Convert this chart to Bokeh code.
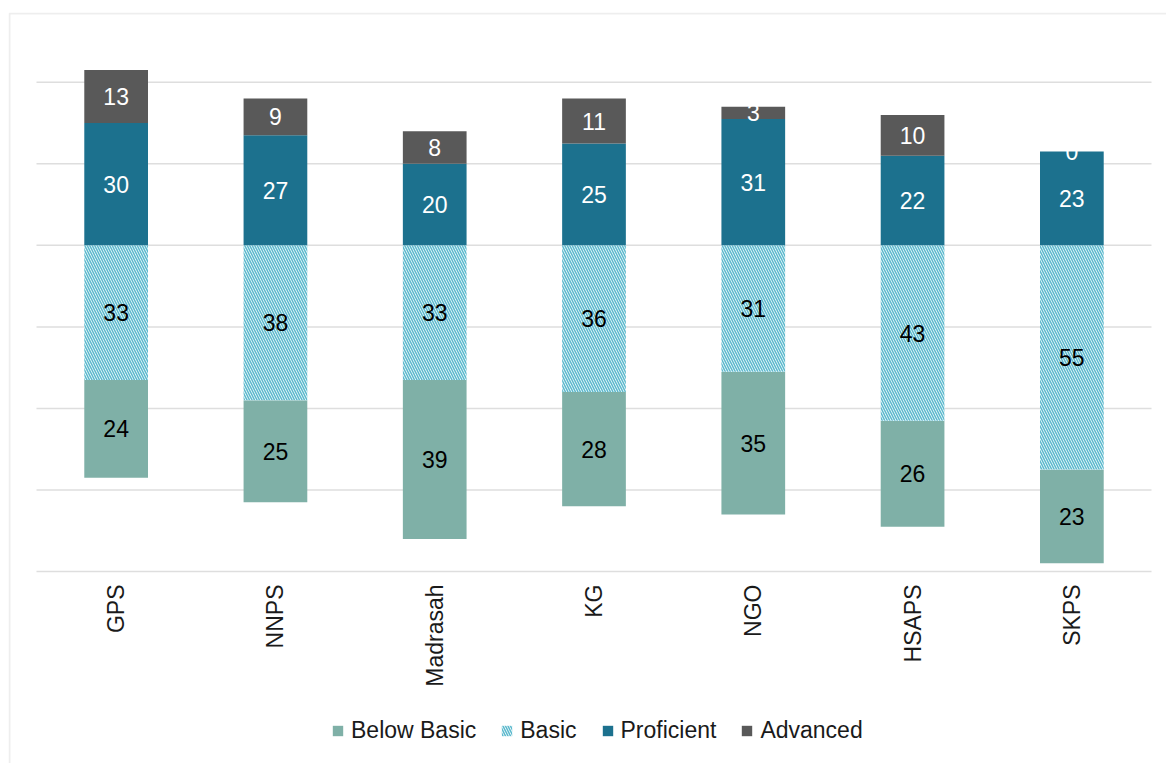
import math
from bokeh.plotting import figure
from bokeh.models import (ColumnDataSource, Legend, LegendItem, Range1d,
                          BoxAnnotation)
from bokeh.core.properties import value
from bokeh.embed import file_html
from bokeh.resources import INLINE

categories = ["GPS", "NNPS", "Madrasah", "KG", "NGO", "HSAPS", "SKPS"]
below_basic = [24, 25, 39, 28, 35, 26, 23]
basic = [33, 38, 33, 36, 31, 43, 55]
proficient = [30, 27, 20, 25, 31, 22, 23]
advanced = [13, 9, 8, 11, 3, 10, 0]
grid_ticks = [-80, -60, -40, -20, 0, 20, 40]

FONT = "Liberation Sans"
C_BELOW = "#7FB0A7"
C_BASIC = "#5DBACE"
C_PROF = "#1C718E"
C_ADV = "#595959"
C_GRID = "#dedede"
C_BORDER = "#c8c8c8"

# canvas / chart-area geometry (pixels)
W_PX, H_PX = 1166, 763
CHART_LEFT, CHART_TOP = 8, 12          # outer chart border
PLOT_L, PLOT_R = 36, 1151              # plot area (category band)
Y_TOP_VAL, Y_TOP_PX = 50, 41
Y_BOT_VAL, Y_BOT_PX = -80, 571

n = len(categories)
xpx = (PLOT_R - PLOT_L) / n
ypx = (Y_BOT_PX - Y_TOP_PX) / (Y_TOP_VAL - Y_BOT_VAL)
x_start = -(PLOT_L - CHART_LEFT) / xpx
x_end = n + (W_PX - PLOT_R) / xpx
y_end = Y_TOP_VAL + (Y_TOP_PX - CHART_TOP) / ypx
y_start = Y_BOT_VAL - (H_PX - Y_BOT_PX) / ypx

xs = [i + 0.5 for i in range(n)]

# stacked, diverging around zero
bb_top = [-b for b in basic]
bb_bot = [-b - bb for b, bb in zip(basic, below_basic)]
ba_top = [0] * n
ba_bot = [-b for b in basic]
pr_bot = [0] * n
pr_top = list(proficient)
ad_bot = list(proficient)
ad_top = [p_ + a for p_, a in zip(proficient, advanced)]

src = ColumnDataSource(dict(x=xs, cat=categories, bb_top=bb_top, bb_bot=bb_bot,
                            ba_top=ba_top, ba_bot=ba_bot, pr_top=pr_top,
                            pr_bot=pr_bot, ad_top=ad_top, ad_bot=ad_bot))

p = figure(x_range=Range1d(x_start, x_end), y_range=Range1d(y_start, y_end),
           width=W_PX, height=H_PX, output_backend="svg", toolbar_location=None,
           min_border_left=CHART_LEFT, min_border_right=0,
           min_border_top=CHART_TOP, min_border_bottom=0)
p.xaxis.visible = False
p.yaxis.visible = False
p.grid.visible = False
p.outline_line_color = None

# horizontal gridlines spanning the plot area
p.segment(x0=[0] * len(grid_ticks), x1=[n] * len(grid_ticks),
          y0=grid_ticks, y1=grid_ticks, line_color=C_GRID, line_width=1.5)

W = 0.4
r_bb = p.vbar(x="x", top="bb_top", bottom="bb_bot", width=W, source=src,
              fill_color=C_BELOW, line_color=None)
r_ba = p.vbar(x="x", top="ba_top", bottom="ba_bot", width=W, source=src,
              fill_color="white", line_color=None, hatch_pattern="\\",
              hatch_color=C_BASIC, hatch_scale=5, hatch_weight=1.6)
r_pr = p.vbar(x="x", top="pr_top", bottom="pr_bot", width=W, source=src,
              fill_color=C_PROF, line_color=None)
r_ad = p.vbar(x="x", top="ad_top", bottom="ad_bot", width=W, source=src,
              fill_color=C_ADV, line_color=None)

# data labels
lab_x, lab_y, lab_t, lab_c = [], [], [], []
for i in range(n):
    for v, lo, hi, col in [(below_basic[i], bb_bot[i], bb_top[i], "#000000"),
                           (basic[i], ba_bot[i], ba_top[i], "#000000"),
                           (proficient[i], pr_bot[i], pr_top[i], "#ffffff"),
                           (advanced[i], ad_bot[i], ad_top[i], "#ffffff")]:
        lab_x.append(xs[i])
        lab_y.append((lo + hi) / 2)
        lab_t.append(str(v))
        lab_c.append(col)
lsrc = ColumnDataSource(dict(x=lab_x, y=lab_y, t=lab_t, c=lab_c))
p.text(x="x", y="y", text="t", source=lsrc, text_color="c",
       text_align="center", text_baseline="middle",
       text_font=value(FONT), text_font_size=value("23px"))

# category labels (rotated, reading upward) under the plot area
cat_y = Y_BOT_VAL - 13 / ypx
p.text(x="x", y=cat_y, text="cat", source=src, angle=math.pi / 2,
       text_align="right", text_baseline="middle", text_color="#1a1a1a",
       text_font=value(FONT), text_font_size=value("23px"))

# chart border: left and top edges
border = BoxAnnotation(left=x_start + 1.0 / xpx, top=y_end - 1.0 / ypx,
                       right=x_end + 5, bottom=y_start - 50,
                       fill_alpha=0, line_color=C_BORDER, line_width=2)
p.add_layout(border)

legend = Legend(items=[LegendItem(label="Below Basic", renderers=[r_bb]),
                       LegendItem(label="Basic", renderers=[r_ba]),
                       LegendItem(label="Proficient", renderers=[r_pr]),
                       LegendItem(label="Advanced", renderers=[r_ad])],
                orientation="horizontal", location=(323, 19),
                border_line_color=None, background_fill_alpha=0,
                glyph_width=13, glyph_height=13, label_standoff=7,
                spacing=24, margin=0, padding=0,
                label_text_font=FONT, label_text_font_size="23px",
                label_text_color="#1a1a1a")
p.add_layout(legend, "center")

open("out.html", "w").write(file_html(p, INLINE))
